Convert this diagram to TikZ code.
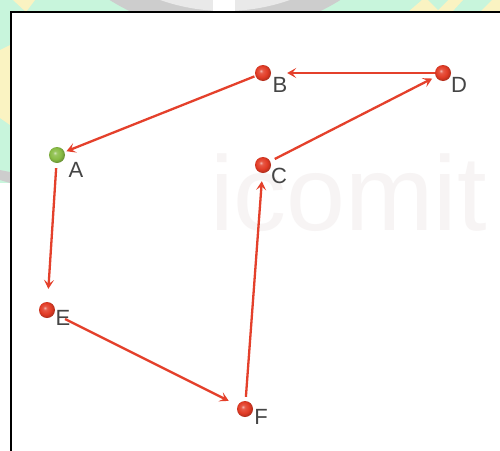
\documentclass[tikz,border=0pt]{standalone}
\usepackage{fontspec}
\setmainfont{Liberation Sans}
\usetikzlibrary{arrows.meta}
\definecolor{mint}{HTML}{C8F5DC}
\definecolor{pale}{HTML}{FAF3C2}
\definecolor{logogray}{HTML}{CDCDCD}
\definecolor{logolight}{HTML}{E9E9E9}
\definecolor{arrowred}{HTML}{E4402B}
\definecolor{labelgray}{HTML}{454545}
\definecolor{wmgray}{HTML}{F7F4F4}
\definecolor{ballred}{HTML}{E23B25}
\definecolor{ballgreen}{HTML}{88BC44}
\pgfdeclareradialshading{redsphere}{\pgfpoint{-7bp}{7bp}}{color(0bp)=(ballred!35!white); color(6bp)=(ballred!85!white); color(18bp)=(ballred); color(28bp)=(ballred!75!black); color(50bp)=(ballred!60!black)}
\pgfdeclareradialshading{greensphere}{\pgfpoint{-7bp}{7bp}}{color(0bp)=(ballgreen!35!white); color(6bp)=(ballgreen!85!white); color(18bp)=(ballgreen); color(28bp)=(ballgreen!75!black); color(50bp)=(ballgreen!60!black)}
\tikzset{
  redball/.style={circle,inner sep=0pt,minimum size=16pt,shading=redsphere},
  greenball/.style={circle,inner sep=0pt,minimum size=16pt,shading=greensphere},
  vlabel/.style={inner sep=0pt,text=labelgray,font=\fontsize{22}{22}\selectfont},
  arr/.style={draw=arrowred,line width=2.3pt,-{Stealth[length=9pt,width=10pt,inset=4pt]}},
}
\begin{document}
\begin{tikzpicture}[x=1pt,y=-1pt]
\useasboundingbox (0,0) rectangle (500,450);
% background outside the frame
\fill[white] (0,0) rectangle (500,450);
\fill[mint] (0,0) rectangle (500,12);
\fill[mint] (0,0) rectangle (10,183);
\fill[pale] (13,0) -- (35,0) -- (26,12) -- cycle;
\fill[pale] (0,50) -- (10,45) -- (10,125) -- (0,118) -- cycle;
\fill[pale] (408,12) -- (422,0) -- (463,0) -- (452,12) -- cycle;
\fill[mint] (428,0) -- (448,0) -- (438,10) -- cycle;
\fill[pale] (480,12) -- (492,0) -- (500,0) -- (500,12) -- cycle;
\fill[logogray] (0,170) -- (10,172) -- (10,183) -- (0,180) -- cycle;
\begin{scope}
\clip (0,0) rectangle (500,12);
\fill[logogray] (225,-185) circle (218);
\fill[logolight] (225,-185) circle (196);
\fill[white] (213,0) rectangle (235,12);
\end{scope}
% frame
\draw[line width=2pt,fill=white] (11,12) rectangle (520,470);
% watermark
\node[inner sep=0pt,anchor=base west,text=wmgray,font=\fontsize{106}{106}\selectfont] (wm) at (210,230) {icomit};
% vertices
\node[greenball] (A) at (57,155) {};
\node[redball] (B) at (263,73) {};
\node[redball] (C) at (263,165) {};
\node[redball] (D) at (443,73) {};
\node[redball] (E) at (47,310) {};
\node[redball] (F) at (245,409) {};
% connectors
\draw[arr,shorten <=1pt,shorten >=2pt] (B) -- (A);
\draw[arr,shorten >=16pt] (D) -- (B);
\draw[arr,shorten <=5pt,shorten >=4pt] (C) -- (D);
\draw[arr,shorten <=4pt,shorten >=8pt] (F) -- (C);
\draw[arr,shorten <=5pt,shorten >=13pt] (A) -- (E);
\draw[arr,shorten <=12pt,shorten >=10pt] (E) -- (F);
% labels
\node[vlabel] (lA) at (76,170) {A};
\node[vlabel] (lB) at (280,85) {B};
\node[vlabel] (lC) at (279,176) {C};
\node[vlabel] (lD) at (459,85) {D};
\node[vlabel] (lE) at (63,318) {E};
\node[vlabel] (lF) at (261,417) {F};
\end{tikzpicture}
\end{document}
